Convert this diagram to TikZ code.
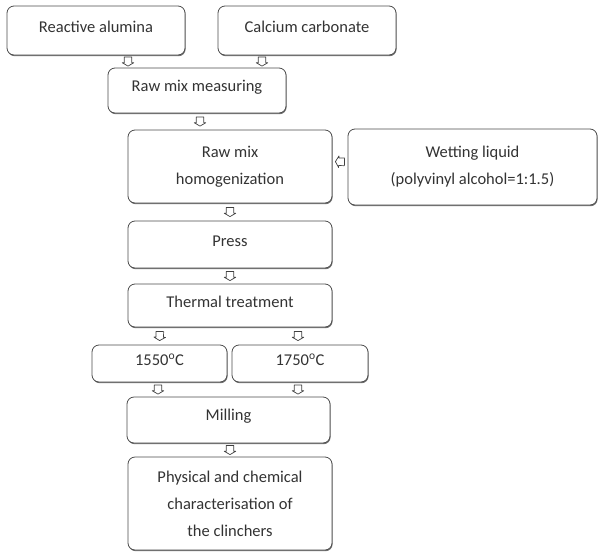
\documentclass[tikz,border=0pt]{standalone}
\usepackage{fontspec}
\setmainfont{Carlito}
\usetikzlibrary{decorations.markings,shadows}
\newcommand\liftup[1]{\raisebox{3.5pt}[\height][\depth]{#1}}
\tikzset{
  box/.style={draw=black!70, line width=0.8pt, rounded corners=7pt, fill=white,
    align=center, text=black!80, inner sep=2pt,
    font=\fontsize{16.5}{27}\selectfont,
    general shadow={shadow xshift=0.6pt, shadow yshift=-1.2pt, fill=black!55}},
  conn/.style={postaction={decorate, decoration={markings, mark=at position 0.5 with {
    \draw[black!75, line width=0.7pt, fill=white, line join=round]
      (-4.5pt,-3.8pt) -- (1.2pt,-3.8pt) -- (1.2pt,-5.8pt) -- (4.6pt,0pt) --
      (1.2pt,5.8pt) -- (1.2pt,3.8pt) -- (-4.5pt,3.8pt) -- cycle;}}}}
}
\begin{document}
\begin{tikzpicture}[x=1pt,y=-1pt]
\useasboundingbox (0,0) rectangle (599,554);
\node[box, minimum width=178pt, minimum height=49pt] (n1) at (96,30.5) {\liftup{Reactive alumina}};
\node[box, minimum width=178pt, minimum height=49pt] (n2) at (307,30.5) {\liftup{Calcium carbonate}};
\node[box, minimum width=178pt, minimum height=45pt] (n3) at (197,90.5) {\liftup{Raw mix measuring}};
\node[box, minimum width=204pt, minimum height=73pt] (n4) at (230,166.5) {Raw mix\\homogenization};
\node[box, minimum width=249pt, minimum height=76pt] (n5) at (472.5,167) {Wetting liquid\\(polyvinyl alcohol=1:1.5)};
\node[box, minimum width=204pt, minimum height=47pt] (n6) at (230,244.5) {\liftup{Press}};
\node[box, minimum width=204pt, minimum height=43pt] (n7) at (230,305.5) {\liftup{Thermal treatment}};
\node[box, minimum width=135pt, minimum height=37pt] (n8) at (159.5,363.5) {\liftup{1550$^{\mathrm{o}}$C}};
\node[box, minimum width=136pt, minimum height=37pt] (n9) at (300,363.5) {\liftup{1750$^{\mathrm{o}}$C}};
\node[box, minimum width=203pt, minimum height=46pt] (n10) at (228.5,420) {\liftup{Milling}};
\node[box, minimum width=204pt, minimum height=93pt] (n11) at (230,503.5) {Physical and chemical\\characterisation of\\the clinchers};
\path[conn] ([xshift=32pt]n1.south) -- ([xshift=-69pt]n3.north);
\path[conn] ([xshift=-45pt]n2.south) -- ([xshift=65pt]n3.north);
\path[conn] ([xshift=3pt]n3.south) -- ([xshift=-30pt]n4.north);
\path[conn] (n4.south) -- (n6.north);
\path[conn] ([yshift=5pt]n5.west) -- ([yshift=5pt]n4.east);
\path[conn] (n6.south) -- (n7.north);
\path[conn] ([xshift=-70pt]n7.south) -- (n8.north);
\path[conn] ([xshift=68pt]n7.south) -- ([xshift=-2pt]n9.north);
\path[conn] ([xshift=-1.5pt]n8.south) -- ([xshift=-70.5pt]n10.north);
\path[conn] ([xshift=-2pt]n9.south) -- ([xshift=69.5pt]n10.north);
\path[conn] ([xshift=1.5pt]n10.south) -- (n11.north);
\end{tikzpicture}
\end{document}
